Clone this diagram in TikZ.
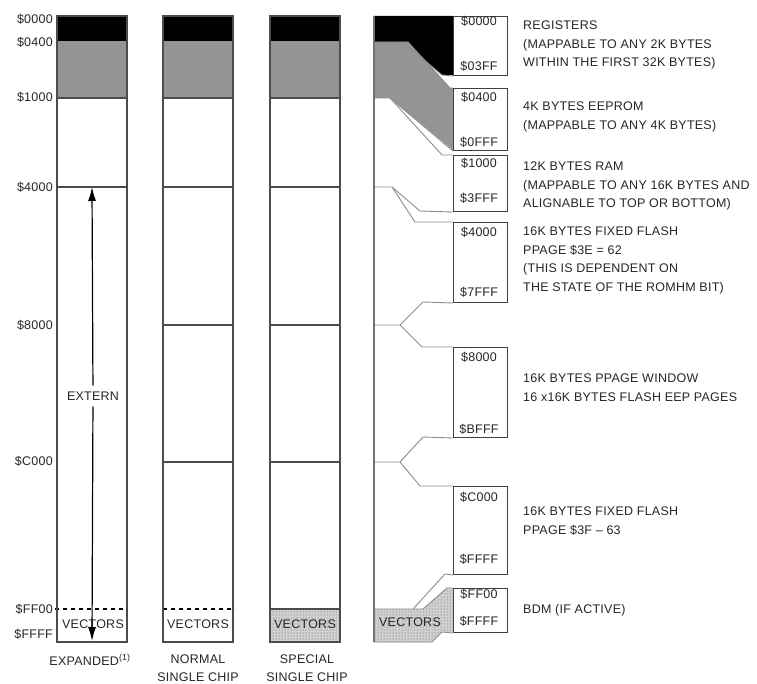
\documentclass[tikz,border=0pt]{standalone}
\usepackage{fontspec}
\setmainfont{Liberation Sans}[LetterSpace=2]
\usetikzlibrary{arrows.meta,patterns}

\begin{document}
\begin{tikzpicture}[
x=1pt, y=-1pt,
every node/.style={
inner sep=0pt,
text=black!85,
font=\fontsize{12.5}{18.5}\selectfont
},
memcol/.style={draw=black!70, line width=1.1pt},
reg/.style={fill=black},
eep/.style={fill=black!42},
dotbg/.style={fill=black!18, postaction={pattern=dots, pattern color=black!65}},
dash line/.style={line width=1.8pt, dash pattern=on 4pt off 4pt},
ribbon/.style={draw=black!45, line width=0.9pt},
membox/.style={draw=black!75, line width=1pt, anchor=north west, minimum width=54pt},
desc/.style={anchor=north west, align=left},
mode/.style={anchor=north, align=center, font=\fontsize{12.5}{17.5}\selectfont},
ext arrow/.style={-{Latex[length=14pt,width=8pt]}, line width=1.2pt}
]

\useasboundingbox (0,0) rectangle (757,684);

% expanded
\fill[reg] (57,16) rectangle (127,41);
\fill[eep] (57,41) rectangle (127,98);
\draw[memcol] (57,98) -- (127,98);
\draw[memcol] (57,187) -- (127,187);
\draw[dash line] (55,609) -- (127,609);
\draw[memcol] (57,16) rectangle (127,642);

% normal single chip
\fill[reg] (163,16) rectangle (233,41);
\fill[eep] (163,41) rectangle (233,98);
\draw[memcol] (163,98) -- (233,98);
\draw[memcol] (163,187) -- (233,187);
\draw[memcol] (163,325) -- (233,325);
\draw[memcol] (163,462) -- (233,462);
\draw[dash line] (163,609) -- (235,609);
\draw[memcol] (163,16) rectangle (233,642);

% special single chip
\fill[reg] (270,16) rectangle (340,41);
\fill[eep] (270,41) rectangle (340,98);
\fill[dotbg] (270,609) rectangle (340,642);
\draw[memcol] (270,98) -- (340,98);
\draw[memcol] (270,187) -- (340,187);
\draw[memcol] (270,325) -- (340,325);
\draw[memcol] (270,462) -- (340,462);
\draw[memcol] (270,609) -- (340,609);
\draw[memcol] (270,16) rectangle (340,642);

% mapped column
\fill[reg] (374,16) -- (453,16) -- (453,75) -- (442,75) -- (403,42) -- (374,42) -- cycle;
\fill[eep] (374,42) -- (408,42) -- (450,88) -- (453,88) -- (453,150) -- (390,98) -- (374,98) -- cycle;
\fill[dotbg] (374,609) -- (423,609) -- (447,588) -- (453,588) -- (453,632) -- (442,632) -- (432,642) -- (374,642) -- cycle;

\node[membox, minimum height=59pt] (regs) at (453,16) {};
\node[membox, minimum height=62pt] (eeprom) at (453,88) {};
\node[membox, minimum height=56pt] (ram) at (453,155) {};
\node[membox, minimum height=80pt] (flasha) at (453,222) {};
\node[membox, minimum height=90pt] (window) at (453,347) {};
\node[membox, minimum height=88pt] (flashb) at (453,486) {};
\node[membox, minimum height=44pt] (bdm) at (453,588) {};

\draw[ribbon] (374,42) -- (403,42) -- (442,75) -- (regs.south west);
\draw[ribbon] (403,42) -- (408,42) -- (450,88) -- (eeprom.north west);
\draw[ribbon] (374,98) -- (390,98) -- (eeprom.south west);
\draw[ribbon] (390,98) -- (442,155) -- (ram.north west);
\draw[ribbon] (374,187) -- (392,187) -- (420,211) -- (ram.south west);
\draw[ribbon] (392,187) -- (415,222) -- (flasha.north west);
\draw[ribbon] (374,325) -- (400,325) -- (423,302) -- (flasha.south west);
\draw[ribbon] (400,325) -- (422,347) -- (window.north west);
\draw[ribbon] (374,462) -- (400,462) -- (423,437) -- (window.south west);
\draw[ribbon] (400,462) -- (420,486) -- (flashb.north west);
\draw[ribbon] (374,609) -- (413,609) -- (445,574) -- (flashb.south west);
\draw[ribbon] (413,609) -- (423,609) -- (447,588) -- (bdm.north west);
\draw[ribbon] (374,642) -- (432,642) -- (442,632) -- (bdm.south west);
\draw[memcol, draw=black!55] (374,16) -- (374,642);

% addresses left
\node[anchor=east] (l0000) at (53,19) {\$0000};
\node[anchor=east] (l0400) at (53,42) {\$0400};
\node[anchor=east] (l1000) at (53,97) {\$1000};
\node[anchor=east] (l4000) at (53,187) {\$4000};
\node[anchor=east] (l8000) at (53,325) {\$8000};
\node[anchor=east] (lC000) at (53,461) {\$C000};
\node[anchor=east] (lFF00) at (53,609) {\$FF00};
\node[anchor=east] (lFFFF) at (53,634) {\$FFFF};

% addresses in boxes
\node (b0000) at (479,21) {\$0000};
\node (b03FF) at (479,66) {\$03FF};
\node (b0400) at (479,97) {\$0400};
\node (b0FFF) at (479,142) {\$0FFF};
\node (b1000) at (479,163) {\$1000};
\node (b3FFF) at (479,198) {\$3FFF};
\node (b4000) at (479,232) {\$4000};
\node (b7FFF) at (479,292) {\$7FFF};
\node (b8000) at (479,357) {\$8000};
\node (bBFFF) at (479,429) {\$BFFF};
\node (bC000) at (479,497) {\$C000};
\node (bFFFF) at (479,559) {\$FFFF};
\node (bFF00) at (479,594) {\$FF00};
\node (bFFFFb) at (479,621) {\$FFFF};

% vectors
\node (vec1) at (93,624) {VECTORS};
\node (vec2) at (198,624) {VECTORS};
\node (vec3) at (305,624) {VECTORS};
\node (vec4) at (410,622) {VECTORS};

% extern arrow
\coordinate (extop) at (92,187);
\coordinate (extbot) at (92,641);
\node[fill=white, inner xsep=2pt, inner ysep=6pt] (ext) at (93,396) {EXTERN};
\draw[ext arrow] (ext) -- (extop);
\draw[ext arrow] (ext) -- (extbot);

% mode names
\node (expd) at (90,660) {EXPANDED\textsuperscript{(1)}};
\node[mode] (nsc) at (198,655) {NORMAL\\SINGLE CHIP};
\node[mode] (ssc) at (307,655) {SPECIAL\\SINGLE CHIP};

% descriptions
\node[desc] (dregs) at (523,21) {REGISTERS\\(MAPPABLE TO ANY 2K BYTES\\WITHIN THE FIRST 32K BYTES)};
\node[desc] (deep) at (523,102) {4K BYTES EEPROM\\(MAPPABLE TO ANY 4K BYTES)};
\node[desc] (dram) at (523,162) {12K BYTES RAM\\(MAPPABLE TO ANY 16K BYTES AND\\ALIGNABLE TO TOP OR BOTTOM)};
\node[desc] (dfla) at (523,227) {16K BYTES FIXED FLASH\\PPAGE \$3E = 62\\(THIS IS DEPENDENT ON\\THE STATE OF THE ROMHM BIT)};
\node[desc] (dwin) at (523,374) {16K BYTES PPAGE WINDOW\\16 x16K BYTES FLASH EEP PAGES};
\node[desc] (dflb) at (523,507) {16K BYTES FIXED FLASH\\PPAGE \$3F -- 63};
\node[desc] (dbdm) at (523,604) {BDM (IF ACTIVE)};

\end{tikzpicture}
\end{document}
